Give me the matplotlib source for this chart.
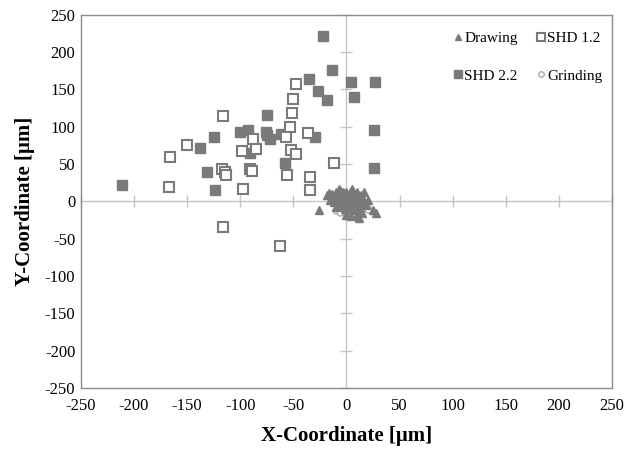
import matplotlib
matplotlib.use("Agg")
import matplotlib.pyplot as plt

plt.rcParams['font.family'] = ['Liberation Serif', 'DejaVu Serif']
plt.rcParams['axes.unicode_minus'] = False

# Drawing (triangles)
draw_x = [-26, -18, -14, -12, -10, -8, -6, -4, -2, 0, 2, 4, 6, 8, 10, 12, 14,
          -5, -3, -1, 1, 3, 5, 7, 9, 11, 13, 15, -8, -12, -15, 0, 4, 10, 18, 20,
          16, -2, 6, 25, 28, 12, -10, 2, 8, -6, 14, 3, -3, -16, 17, -7, 5]
draw_y = [-12, 8, 10, 5, 12, 6, 15, 9, 3, 12, 7, 14, 4, 10, 13, 6, 9,
          -2, -6, -10, -4, -8, -2, -12, -6, -3, -10, -15, -4, -1, 2, -18, -20, -18, -5, 2,
          3, 0, 0, -12, -16, -22, -8, 2, -1, 5, -4, 10, 13, 11, 12, 17, 17]

# SHD 1.2 (open squares)
shd12_x = [-47, -50, -51, -116, -53, -57, -36, -88, -150, -166, -98, -85, -52, -47,
           -12, -117, -114, -113, -91, -89, -56, -34, -34, -167, -97, -116, -63]
shd12_y = [157, 137, 118, 114, 99, 86, 91, 84, 75, 59, 68, 70, 69, 63,
           51, 43, 40, 35, 43, 41, 35, 32, 15, 19, 17, -34, -60]

# SHD 2.2 (filled squares)
shd22_x = [-22, -14, -35, -27, -18, 4, 7, -75, -125, -138, -100, -93, -76, -75, -72,
           -62, -30, -91, -58, -131, -124, -211, 27, 26, 26]
shd22_y = [222, 176, 164, 148, 136, 160, 140, 116, 86, 71, 93, 95, 93, 89, 84,
           90, 86, 65, 52, 39, 15, 22, 160, 95, 45]

# Grinding (open circles)
grind_x = [-10, -6, -2, 0, 3, 6, 8, 10, 12, 14, 16, 18, 4, -4, 2, 20, 7, -8, 11, 5]
grind_y = [-12, -14, -10, -16, -12, -8, -14, -10, -6, -12, -8, -4, -4, -6, -2, -10, -18, -8, -2, -11]

ticks = [-250, -200, -150, -100, -50, 0, 50, 100, 150, 200, 250]

fig = plt.figure(figsize=(6.27, 4.49), dpi=100)
pos = [0.129, 0.136, 0.847, 0.831]
ax = fig.add_axes(pos)

gray = '#7a7a7a'
ax.plot(shd22_x, shd22_y, 's', ms=6.5, color=gray, mec=gray, label='SHD 2.2', zorder=3)
ax.plot(shd12_x, shd12_y, 's', ms=6.5, mfc='white', mec=gray, mew=1.5, label='SHD 1.2', zorder=3)
ax.plot(grind_x, grind_y, 'o', ms=5, mfc='white', mec='#a8a8a8', mew=1, label='Grinding', zorder=4)
ax.plot(draw_x, draw_y, '^', ms=5.5, color=gray, mec=gray, label='Drawing', zorder=5)

ax.set_xlim(-250, 250)
ax.set_ylim(-250, 250)
ax.set_xticks(ticks)
ax.set_yticks(ticks)
ax.tick_params(length=0, labelsize=12)
ax.tick_params(axis='x', pad=7)
ax.tick_params(axis='y', pad=4)
for s in ax.spines.values():
    s.set_color('#8c8c8c')
    s.set_linewidth(1)

ax.set_xlabel('X-Coordinate [μm]', fontsize=15, fontweight='bold', labelpad=9)
ax.set_ylabel('Y-Coordinate [μm]', fontsize=15, fontweight='bold', labelpad=7)

# zero axes with cross ticks
ax2 = fig.add_axes(pos, frameon=True, sharex=ax, sharey=ax)
ax2.patch.set_visible(False)
for side in ['top', 'right']:
    ax2.spines[side].set_visible(False)
ax2.spines['left'].set_position(('data', 0))
ax2.spines['bottom'].set_position(('data', 0))
for side in ['left', 'bottom']:
    ax2.spines[side].set_color('#c4c4c4')
    ax2.spines[side].set_linewidth(1)
ax2.tick_params(direction='inout', length=9, width=1, color='#c4c4c4',
                labelleft=False, labelbottom=False)
ax2.set_zorder(0)
ax.set_zorder(1)
ax.patch.set_visible(False)

h, l = ax.get_legend_handles_labels()
order = [3, 0, 1, 2]
ax.legend([h[i] for i in order], [l[i] for i in order], ncol=2, loc='upper right',
          bbox_to_anchor=(1.014, 1.0),
          frameon=False, fontsize=11, handlelength=0.5, handletextpad=0.15,
          columnspacing=1.3, labelspacing=1.55, borderaxespad=0.7, markerscale=0.8)

fig.savefig('out.png', dpi=100)
